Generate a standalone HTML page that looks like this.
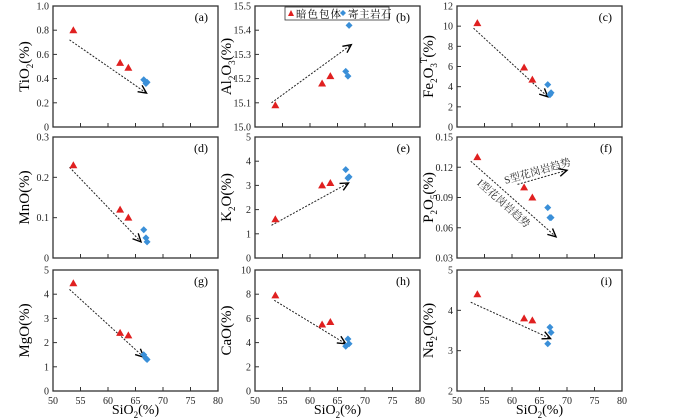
<!DOCTYPE html>
<html><head><meta charset="utf-8"><style>
html,body{margin:0;padding:0;background:#fff}
svg{display:block;font-family:"Liberation Serif","Noto Serif CJK SC",serif}
</style></head><body>
<svg id="c" width="700" height="419" viewBox="0 0 700 419" xmlns="http://www.w3.org/2000/svg"></svg>
<script>
const silicaEnclave = [53.7, 62.2, 63.7];
const silicaHost = [66.5, 66.9, 67.1];
const panelIds = ['a','b','c','d','e','f','g','h','i'];
const oxideNames = ['TiO2','Al2O3','Fe2O3T','MnO','K2O','P2O5','MgO','CaO','Na2O'];
const enclaveValues = [
 [0.80,0.53,0.49],[15.09,15.18,15.21],[10.3,5.9,4.7],[0.23,0.12,0.10],[1.6,3.0,3.1],
 [0.13,0.10,0.09],[4.45,2.4,2.3],[7.9,5.5,5.7],[4.4,3.8,3.75]];
const hostValues = [
 [0.39,0.36,0.37],[15.23,15.21,15.42],[4.2,3.2,3.4],[0.07,0.05,0.04],[3.65,3.3,3.35],
 [0.08,0.07,0.07],[1.5,1.35,1.3],[3.7,4.3,3.9],[3.17,3.58,3.45]];
const yTicks = [
 ['0','0.2','0.4','0.6','0.8','1.0'],['15.0','15.1','15.2','15.3','15.4','15.5'],
 ['0','2','4','6','8','10','12'],['0','0.1','0.2','0.3'],['0','1','2','3','4','5'],
 ['0.03','0.06','0.09','0.12','0.15'],['0','1','2','3','4','5'],['0','2','4','6','8','10'],
 ['2','3','4','5']];
const xTicks = ['50','55','60','65','70','75','80'];
const trendArrows = [
 [[53,0.72],[67,0.28]],[[53,15.1],[67.5,15.34]],[[53,9.8],[66.5,3.0]],[[53,0.225],[66,0.04]],
 [[53,1.35],[67,3.1]],[[52.5,0.126],[68,0.051]],[[53,4.2],[66.5,1.4]],[[53.5,7.5],[66.5,3.9]],
 [[52.5,4.2],[67,3.3]]];
const sTypeArrow = [[61,0.103],[70,0.117]];

const NS='http://www.w3.org/2000/svg';
const svg=document.getElementById('c');
function mk(tag,attrs,parent){const e=document.createElementNS(NS,tag);for(const k in attrs)e.setAttribute(k,attrs[k]);(parent||svg).appendChild(e);return e;}
const colX=[53,255,457], rowY=[6,137,270], W=165, H=121;
function yTitle(g,i,x,y){
 const t=mk('text',{x:x,y:y,'font-size':15,'text-anchor':'middle',transform:`rotate(-90 ${x} ${y})`},g);
 
 
 const parts={0:[['TiO',0],['2',1],['(%)',0]],1:[['Al',0],['2',1],['O',0],['3',1],['(%)',0]],
  2:[['Fe',0],['2',1],['O',0],['3',1],['T',2],['(%)',0]],3:[['MnO(%)',0]],4:[['K',0],['2',1],['O(%)',0]],
  5:[['P',0],['2',1],['O',0],['5',1],['(%)',0]],6:[['MgO(%)',0]],7:[['CaO(%)',0]],8:[['Na',0],['2',1],['O(%)',0]]}[i];
 parts.forEach(p=>{const s=mk('tspan',{},t);s.textContent=p[0];
  if(p[1]==1){s.setAttribute('font-size',9);s.setAttribute('baseline-shift','-4');}
  if(p[1]==2){s.setAttribute('font-size',9);s.setAttribute('baseline-shift','6');}});
}
function arrow(g,x1,y1,x2,y2,w){
 const l=mk('line',{x1,y1,x2,y2,stroke:'#222','stroke-width':1,'stroke-dasharray':'2,1.5'},g);
 
 
 const a=Math.atan2(y2-y1,x2-x1),L=9,s=0.45;
 mk('polyline',{points:`${x2-L*Math.cos(a-s)},${y2-L*Math.sin(a-s)} ${x2},${y2} ${x2-L*Math.cos(a+s)},${y2-L*Math.sin(a+s)}`,fill:'none',stroke:'#000','stroke-width':w||1.4},g);
}
panelIds.forEach((id,i)=>{
 const x0=colX[i%3], y0=rowY[Math.floor(i/3)];
 const g=mk('g',{});
 
 
 const yt=yTicks[i], ymin=+yt[0], ymax=+yt[yt.length-1];
 const sx=v=>x0+(v-50)/30*W, sy=v=>y0+H-(v-ymin)/(ymax-ymin)*H;
 const box=mk('rect',{x:x0,y:y0,width:W,height:H,fill:'none',stroke:'#333','stroke-width':1.3},g);
 
 
 yt.forEach(t=>{const y=sy(+t);mk('line',{x1:x0,x2:x0+4,y1:y,y2:y,stroke:'#333'},g);
  const tx=mk('text',{x:x0-4,y:y+3.5,'font-size':10,'text-anchor':'end',fill:'#222'},g);tx.textContent=t;
  
  });
 xTicks.forEach(t=>{const x=sx(+t);mk('line',{x1:x,x2:x,y1:y0+H,y2:y0+H-4,stroke:'#333'},g);
  if(i>=6){const tx=mk('text',{x:x,y:y0+H+13,'font-size':10,'text-anchor':'middle',fill:'#222'},g);tx.textContent=t;
   
   }});
 if(i>=6){const t=mk('text',{x:x0+W/2,y:414,'font-size':14,'text-anchor':'middle'},g);
  
  
  const a=mk('tspan',{},t);a.textContent='SiO';const b=mk('tspan',{'font-size':9,'baseline-shift':'-4'},t);b.textContent='2';const c=mk('tspan',{},t);c.textContent='(%)';}
 yTitle(g,i,x0-24,y0+H/2);
 const pl=mk('text',{x:x0+W-10,y:y0+15,'font-size':12,'text-anchor':'end'},g);pl.textContent='('+id+')';
 
 
 const ar=trendArrows[i];arrow(g,sx(ar[0][0]),sy(ar[0][1]),sx(ar[1][0]),sy(ar[1][1]));
 if(id==='f'){arrow(g,sx(sTypeArrow[0][0]),sy(sTypeArrow[0][1]),sx(sTypeArrow[1][0]),sy(sTypeArrow[1][1]));
  const ax1=sx(sTypeArrow[0][0]),ay1=sy(sTypeArrow[0][1]),ax2=sx(sTypeArrow[1][0]),ay2=sy(sTypeArrow[1][1]);
  const ang=Math.atan2(ay2-ay1,ax2-ax1)*180/Math.PI,mx=(ax1+ax2)/2-3,my=(ay1+ay2)/2;
  const s=mk('text',{x:mx,y:my-3,'font-size':10.5,'text-anchor':'middle',fill:'#333',transform:`rotate(${ang} ${mx} ${my})`},g);s.textContent='S型花岗岩趋势';
  
  
  const bx1=sx(ar[0][0]),by1=sy(ar[0][1]),bx2=sx(ar[1][0]),by2=sy(ar[1][1]);
  const a2=Math.atan2(by2-by1,bx2-bx1)*180/Math.PI,nx=(bx1+bx2)/2-4,ny=(by1+by2)/2-2;
  const s2=mk('text',{x:nx,y:ny+12,'font-size':10.5,'text-anchor':'middle',fill:'#333',transform:`rotate(${a2} ${nx} ${ny})`},g);s2.textContent='I型花岗岩趋势';
  
  }
 silicaEnclave.forEach((sv,k)=>{const x=sx(sv),y=sy(enclaveValues[i][k]);
  const p=mk('polygon',{points:`${x},${y-4} ${x-4},${y+3} ${x+4},${y+3}`,fill:'#e02020'},g);
  
  });
 silicaHost.forEach((sv,k)=>{const x=sx(sv),y=sy(hostValues[i][k]);
  const p=mk('polygon',{points:`${x},${y-3.5} ${x+3.5},${y} ${x},${y+3.5} ${x-3.5},${y}`,fill:'#3a8fd8'},g);
  
  });
 if(id==='b'){const lg=mk('g',{},g);
  
  
  mk('rect',{x:285,y:7,width:104,height:13,fill:'#fff',stroke:'#333','stroke-width':0.8},lg);
  mk('polygon',{points:'291,10 288,16 294,16',fill:'#e02020'},lg);
  const t1=mk('text',{x:296,y:17.5,'font-size':10.5,'letter-spacing':1},lg);t1.textContent='暗色包体';
  
  
  mk('polygon',{points:'343,10 346,13 343,16 340,13',fill:'#3a8fd8'},lg);
  const t2=mk('text',{x:348,y:17.5,'font-size':10.5,'letter-spacing':0.5},lg);t2.textContent='寄主岩石';
  
  }
});
</script>
</body></html>
